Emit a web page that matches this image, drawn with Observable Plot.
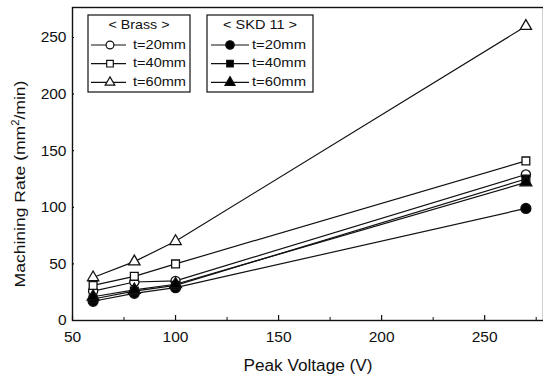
<!DOCTYPE html>
<html>
<head>
<meta charset="utf-8">
<script src="https://cdn.jsdelivr.net/npm/d3@7"></script>
<script src="https://cdn.jsdelivr.net/npm/@observablehq/plot@0.6"></script>
<style>
  html, body { margin: 0; padding: 0; background: #fff; }
  #chart { position: relative; width: 543px; height: 378px; }
  svg { font-family: "Liberation Sans", Arial, sans-serif; }
</style>
</head>
<body>
<div id="chart"></div>
<script>
const voltages = [60, 80, 100, 270];
const brass20 = [26, 34, 35, 129];
const brass40 = [31, 39, 50, 141];
const brass60 = [38, 52, 70, 260];
const skd20 = [17, 24, 29, 99];
const skd40 = [19, 26, 31, 125];
const skd60 = [21, 27, 32, 122];

const xMajor = [50, 100, 150, 200, 250];
const xMinor = [75, 125, 175, 225, 275];
const yMajor = [0, 50, 100, 150, 200, 250];
const yMinor = [25, 75, 125, 175, 225, 275];

const seriesDefs = [
  {name: "t=20mm", group: "Brass", values: brass20, symbol: "circle", fill: "white", r: 4.6},
  {name: "t=40mm", group: "Brass", values: brass40, symbol: "square", fill: "white", r: 4.4},
  {name: "t=60mm", group: "Brass", values: brass60, symbol: "triangle", fill: "white", r: 4.2},
  {name: "t=20mm", group: "SKD 11", values: skd20, symbol: "circle", fill: "black", r: 5},
  {name: "t=40mm", group: "SKD 11", values: skd40, symbol: "square", fill: "black", r: 4.4},
  {name: "t=60mm", group: "SKD 11", values: skd60, symbol: "triangle", fill: "black", r: 4.4}
];

const rows = seriesDefs.flatMap((s, i) => voltages.map((v, j) => ({
  id: i, x: v, y: s.values[j]
})));

const W = 543, H = 378, mL = 72, mT = 7, mB = 58;
const plotH = H - mT - mB;
const FONT = "'Liberation Sans', Arial, sans-serif";

const plot = Plot.plot({
  width: W,
  height: H,
  marginLeft: mL,
  marginRight: 0,
  marginTop: mT,
  marginBottom: mB,
  style: {fontFamily: FONT, background: "white", color: "#111"},
  x: {domain: [50, 280], range: [72, 546]},
  y: {domain: [0, 276.5]},
  marks: [
    Plot.line(rows, {x: "x", y: "y", z: "id", stroke: "#111", strokeWidth: 1.2}),
    ...seriesDefs.map((s, i) => Plot.dot(rows.filter(d => d.id === i), {
      x: "x", y: "y", symbol: () => s.symbol, r: s.r, fill: s.fill, stroke: "#111", strokeWidth: 1.3
    })),
    Plot.frame({stroke: "#111", strokeWidth: 1.4}),
    Plot.tickX(xMajor, {x: d => d, insetTop: plotH - 5, stroke: "#111", strokeWidth: 1.2}),
    Plot.tickX(xMinor, {x: d => d, insetTop: plotH - 3, stroke: "#111", strokeWidth: 1}),
    Plot.tickY(yMajor, {y: d => d, insetRight: (546 - 72) - 5, stroke: "#111", strokeWidth: 1.2}),
    Plot.tickY(yMinor, {y: d => d, insetRight: (546 - 72) - 3, stroke: "#111", strokeWidth: 1}),
    Plot.axisX(xMajor, {tickSize: 0, tickPadding: 10, fontSize: 15.5, label: null}),
    Plot.axisY(yMajor, {tickSize: 0, tickPadding: 6, fontSize: 15.5, label: null})
  ]
});

document.getElementById("chart").appendChild(plot);

const svg = d3.select(plot);

// x-axis title
svg.append("text")
  .attr("x", 308).attr("y", 367)
  .attr("text-anchor", "middle")
  .attr("dominant-baseline", "middle")
  .attr("font-size", 16)
  .attr("textLength", 129).attr("lengthAdjust", "spacingAndGlyphs")
  .attr("fill", "#111")
  .text("Peak Voltage (V)");

// y-axis title
const yt = svg.append("text")
  .attr("transform", "translate(21,184) rotate(-90)")
  .attr("text-anchor", "middle")
  .attr("dominant-baseline", "middle")
  .attr("font-size", 15.5)
  .attr("fill", "#111");
yt.append("tspan").text("Machining Rate (mm");
yt.append("tspan").attr("font-size", 10).attr("dy", -5).text("2");
yt.append("tspan").attr("dy", 5).text("/min)");
{
  const len = yt.node().getComputedTextLength();
  yt.attr("transform", `translate(21,184) rotate(-90) scale(${207 / len},1)`);
}

// legend boxes
const legendBoxes = [
  {title: "< Brass >", group: "Brass", x: 88, w: 102, titleLen: 61, lx1: 3, lx2: 38, mx: 22, tx: 45, tLen: 53},
  {title: "< SKD 11 >", group: "SKD 11", x: 207, w: 106, titleLen: 74, lx1: 4, lx2: 42, mx: 23, tx: 45, tLen: 54}
];
const symbolMap = {circle: d3.symbolCircle, square: d3.symbolSquare, triangle: d3.symbolTriangle};
legendBoxes.forEach(b => {
  const g = svg.append("g").attr("transform", `translate(${b.x},15)`).attr("text-anchor", "start");
  g.append("rect").attr("width", b.w).attr("height", 77).attr("fill", "white").attr("stroke", "#111").attr("stroke-width", 1.2);
  g.append("text").attr("x", b.w / 2).attr("y", 10.5).attr("text-anchor", "middle")
    .attr("dominant-baseline", "middle").attr("font-size", 13.5)
    .attr("textLength", b.titleLen).attr("lengthAdjust", "spacingAndGlyphs")
    .attr("fill", "#111").text(b.title);
  seriesDefs.filter(s => s.group === b.group).forEach((s, k) => {
    const yy = 30 + k * 18.7;
    g.append("line").attr("x1", b.lx1).attr("x2", b.lx2).attr("y1", yy).attr("y2", yy).attr("stroke", "#111").attr("stroke-width", 1.2);
    g.append("path").attr("transform", `translate(${b.mx},${yy})`)
      .attr("d", d3.symbol(symbolMap[s.symbol], Math.PI * (s.r * 0.85) ** 2)())
      .attr("fill", s.fill).attr("stroke", "#111").attr("stroke-width", 1.2);
    g.append("text").attr("x", b.tx).attr("y", yy).attr("text-anchor", "start").attr("dominant-baseline", "middle")
      .attr("font-size", 13.5)
      .attr("textLength", b.tLen).attr("lengthAdjust", "spacingAndGlyphs")
      .attr("fill", "#111").text(s.name);
  });
});
</script>
</body>
</html>
